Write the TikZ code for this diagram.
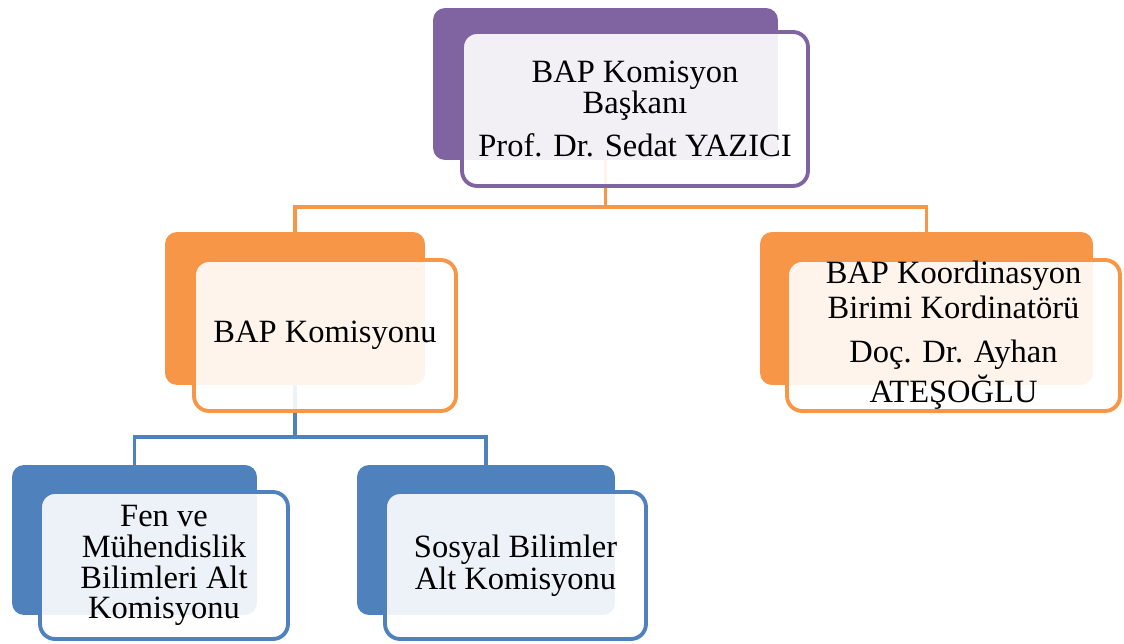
\documentclass[tikz,border=0pt]{standalone}
\usepackage{fontspec}
\setmainfont{Liberation Serif}
\usetikzlibrary{positioning,calc}

\definecolor{mor}{RGB}{128,100,162}
\definecolor{turuncu}{RGB}{247,150,70}
\definecolor{mavi}{RGB}{79,129,189}

\begin{document}
\begin{tikzpicture}[x=0.02cm,y=-0.02cm,
  arka/.style={rectangle, rounded corners=0.24cm, inner sep=0pt, fill=#1},
  on/.style={rectangle, rounded corners=0.3cm, inner sep=0pt, draw=#1,
    line width=2.2pt, fill=white, fill opacity=0.9, text opacity=1,
    align=center, font=\fontsize{18.5}{17.5}\selectfont},
  bag/.style={line width=2.2pt, color=#1}]
\useasboundingbox (0,0) rectangle (1124,644);

% arka kutular
\node[arka=mor, minimum width=6.9cm, minimum height=3.04cm] (baskanA) at (605.5,84) {};
\node[arka=turuncu, minimum width=5.2cm, minimum height=3.06cm] (komisyonA) at (295,308.5) {};
\node[arka=turuncu, minimum width=6.66cm, minimum height=3.06cm] (birimA) at (926.5,308.5) {};
\node[arka=mavi, minimum width=4.9cm, minimum height=3.0cm] (fenA) at (134.5,540) {};
\node[arka=mavi, minimum width=5.16cm, minimum height=3.0cm] (sosyalA) at (486,540) {};

% baglantilar
\coordinate (ustorta) at (605.5,207);
\draw[bag=turuncu] (baskanA.south) -- (ustorta) -| (komisyonA.north);
\draw[bag=turuncu] (ustorta) -| (birimA.north);
\coordinate (altorta) at (295,437);
\draw[bag=mavi] (komisyonA.south) -- (altorta) -| (fenA.north);
\draw[bag=mavi] (altorta) -| (sosyalA.north);

% on kutular
\node[on=mor, minimum width=6.92cm, minimum height=3.08cm] (baskan) at (635,109)
  {BAP Komisyon\\ Başkanı\\[7pt] Prof. Dr. Sedat YAZICI};
\node[on=turuncu, minimum width=5.24cm, minimum height=3.02cm] (komisyon) at (325,335.5)
  {BAP Komisyonu};
\node[on=turuncu, minimum width=6.66cm, minimum height=3.02cm] (birim) at (953.5,335.5)
  {BAP Koordinasyon\\[2pt] Birimi Kordinatörü\\[8pt] Doç. Dr. Ayhan\\[2pt] ATEŞOĞLU};
\node[on=mavi, minimum width=4.96cm, minimum height=2.94cm] (fen) at (164,565.5)
  {Fen ve\\ Mühendislik\\ Bilimleri Alt\\ Komisyonu};
\node[on=mavi, minimum width=5.22cm, minimum height=2.94cm] (sosyal) at (515.5,565.5)
  {Sosyal Bilimler\\[1pt] Alt Komisyonu};
\end{tikzpicture}
\end{document}
